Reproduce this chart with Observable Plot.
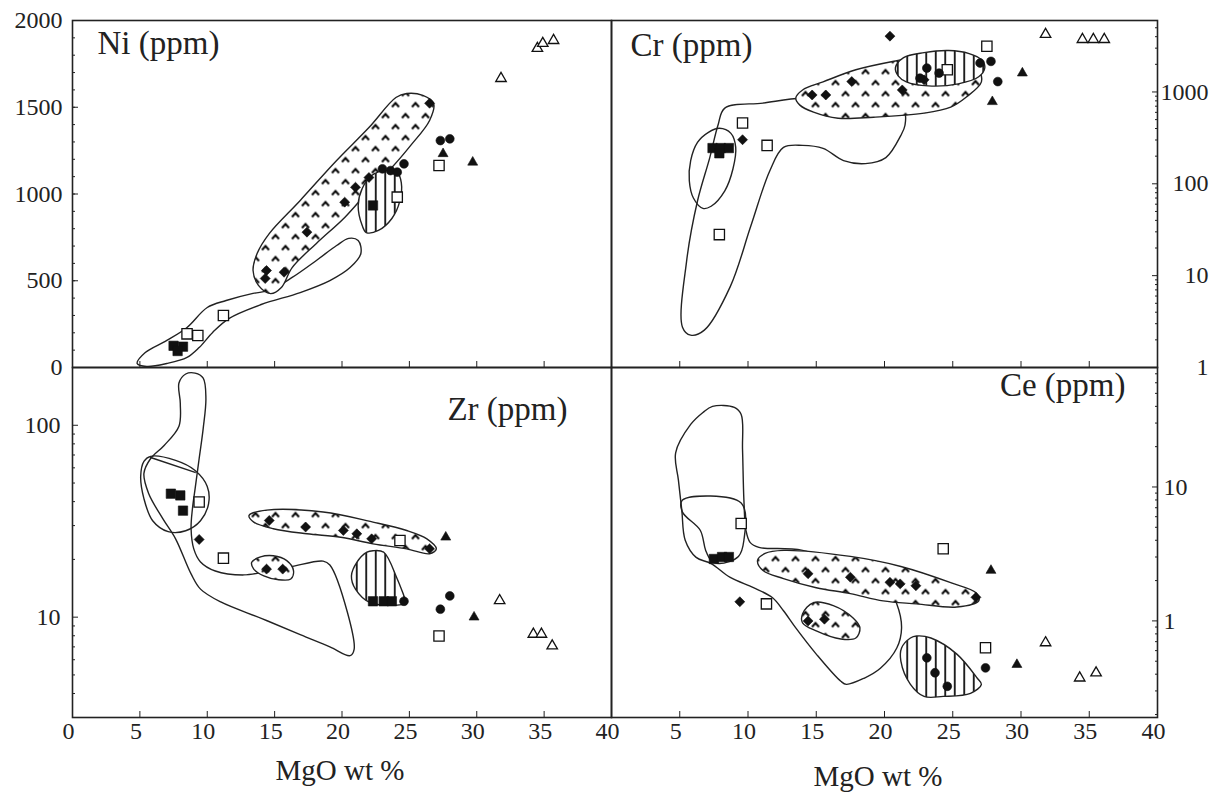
<!DOCTYPE html>
<html><head><meta charset="utf-8">
<script src="https://cdn.jsdelivr.net/npm/d3@7"></script>
<script src="https://cdn.jsdelivr.net/npm/@observablehq/plot@0.6"></script>
<style>
body{margin:0;background:#fff;width:1222px;height:794px;position:relative;overflow:hidden;font-family:"Liberation Serif","Times New Roman",serif;color:#222;}
.xlabel{position:absolute;font-family:"Liberation Serif","Times New Roman",serif;font-size:29px;white-space:nowrap;transform:translateX(-50%);}
</style></head><body>
<svg width="0" height="0" style="position:absolute">
<defs>
<pattern id="stip" patternUnits="userSpaceOnUse" width="20" height="22">
 <rect width="20" height="22" fill="#fff"/>
 <path d="M1.5,7.5 L5,3.5 L8.5,7.5 M11.5,18.5 L15,14.5 L18.5,18.5" fill="none" stroke="#000" stroke-width="1.9"/>
</pattern>
<pattern id="hatch" patternUnits="userSpaceOnUse" width="9.5" height="10">
 <rect width="9.5" height="10" fill="#fff"/>
 <line x1="4.75" y1="0" x2="4.75" y2="10" stroke="#111" stroke-width="1.8"/>
</pattern>
</defs></svg>
<div class="xlabel" style="left:340px;top:754px">MgO wt %</div>
<div class="xlabel" style="left:878px;top:760px">MgO wt %</div>
<script>
// ---- axis ticks ----
const mgoTicks = [0,5,10,15,20,25,30,35,40];
const mgoLabelsLeft = [0,5,10,15,20,25,30,35,40];
const mgoLabelsRight = [5,10,15,20,25,30,35,40];
const niTicks = [0,500,1000,1500,2000];
const crTicks = [1,10,100,1000];
const zrTicks = [10,100];
const ceTicks = [1,10];

// ---- Ni (ppm) ----
const niDiamond = [[26.5,1523],[22.0,1095],[21.0,1039],[20.2,953],[17.4,780],[14.4,559],[14.3,513],[15.7,549]];
const niCircle = [[27.3,1308],[28.0,1318],[24.6,1174],[23.0,1145],[23.6,1135],[24.1,1126]];
const niTriFilled = [[27.5,1232],[29.7,1183]];
const niTriOpen = [[31.8,1666],[34.5,1839],[34.9,1868],[35.7,1885]];
const niSqOpen = [[27.2,1164],[24.1,982],[8.5,194],[9.3,184],[11.2,300]];
const niSqFilled = [[22.3,934],[7.5,125],[8.2,120],[7.8,95]];
const niStipple = [[13.4,559],[13.7,657],[14.6,772],[16.9,963],[19.6,1193],[22.0,1383],[24.0,1556],[24.8,1579],[26.0,1568],[26.8,1522],[26.5,1424],[25.1,1280],[23.7,1153],[22.2,1038],[20.2,865],[18.1,715],[16.3,576],[15.5,461],[14.7,426],[13.8,473]];
const niHatch = [[21.5,818],[21.2,934],[21.5,1032],[22.2,1107],[23.2,1135],[24.1,1124],[24.4,1066],[24.3,962],[23.7,859],[22.7,790],[21.8,778]];
const niOpen = [[4.8,23],[5.4,86],[7.0,156],[8.5,231],[10.0,346],[11.4,386],[13.4,427],[14.6,444],[16.3,519],[18.1,617],[19.6,703],[20.5,744],[21.2,732],[21.4,657],[20.6,576],[19.1,501],[16.9,432],[14.0,363],[11.6,282],[10.4,202],[9.4,115],[8.5,58],[7.0,23],[5.5,6]];

// ---- Cr (ppm) ----
const crDiamond = [[20.4,4052],[14.7,927],[15.7,927],[17.6,1298],[21.3,1052],[22.9,1355],[9.6,302]];
const crCircle = [[23.1,1821],[24.0,1604],[22.6,1413],[27.0,2067],[27.8,2153],[28.3,1298]];
const crTriFilled = [[30.1,1604],[27.9,783]];
const crTriOpen = [[31.8,4230],[34.5,3730],[35.3,3730],[36.1,3730]];
const crSqOpen = [[27.5,3147],[24.6,1745],[9.6,460],[11.4,262],[7.9,28]];
const crSqFilled = [[7.4,245],[8.0,245],[8.6,245],[7.9,215]];
const crOpen = [[8.3,667],[11.1,757],[14.0,859],[18.5,817],[21.4,634],[21.5,434],[21.2,337],[20.1,193],[18.6,166],[17.0,179],[15.5,243],[14.0,262],[12.6,249],[11.6,139],[10.2,34.5],[8.7,7.6],[6.8,2.55],[5.8,2.25],[5.2,2.75],[5.5,14.3],[6.3,65],[7.2,193],[7.8,434]];
const crEllipse = [[7.9,402],[8.75,354],[9.1,249],[8.9,146],[8.3,84],[7.3,57],[6.7,54],[6.0,70],[5.7,108],[5.8,179],[6.3,282],[7.1,363]];
const crStipple = [[13.5,859],[14.0,1052],[15.5,1288],[17.9,1745],[20.9,2192],[23.6,2552],[25.8,2366],[26.9,1745],[27.1,1288],[26.0,881],[24.85,684],[22.9,588],[19.2,531],[16.6,518],[14.8,603],[13.8,719]];
const crHatch = [[20.8,1836],[21.4,2366],[22.9,2683],[24.7,2825],[26.2,2618],[27.1,2249],[27.35,1836],[26.9,1462],[25.4,1224],[23.2,1164],[21.6,1288],[21.0,1500]];

// ---- Zr (ppm) ----
const zrDiamond = [[9.4,25.4],[14.4,17.8],[15.6,17.8],[14.6,31.9],[17.3,29.5],[20.1,28.3],[21.1,27.2],[22.2,25.6],[26.5,22.7]];
const zrCircle = [[24.6,12.1],[28.0,12.9],[27.3,11.0]];
const zrTriFilled = [[27.7,26.1],[29.8,10.0]];
const zrTriOpen = [[31.7,12.2],[34.2,8.15],[34.8,8.15],[35.6,7.08]];
const zrSqOpen = [[9.4,39.8],[11.2,20.3],[24.3,25.1],[27.2,7.98]];
const zrSqFilled = [[7.3,44.0],[8.0,43.1],[8.2,35.9],[22.3,12.1],[23.1,12.1],[23.7,12.1]];
const zrOpen = [[5.8,67.1],[6.8,78.5],[7.9,98.9],[8.0,130],[7.9,166],[8.4,185],[9.1,187],[9.7,176],[9.9,138],[9.7,96.4],[9.4,67.1],[9.1,46.8],[8.9,36.7],[8.8,28.9],[9.0,22.7],[9.5,19.4],[10.6,17.4],[12.7,16.6],[14.2,17.2],[16.2,18.3],[18.6,19.6],[19.1,18.7],[20.4,10.6],[20.9,6.8],[20.6,6.3],[19.1,7.0],[16.9,8.1],[14.1,9.8],[11.0,12.0],[9.5,14.0],[8.8,16.8],[7.65,25.6],[6.7,32.6],[5.65,44.1],[5.3,56.1]];
const zrDivider = [[5.8,67.9],[9.1,56.8]];
const zrEllipse = [[5.8,68.9],[7.65,65.6],[9.1,58.1],[10.0,48.0],[10.1,39.1],[9.5,31.8],[8.4,28.2],[7.1,27.9],[5.95,31.8],[5.3,41.5],[5.06,54.1],[5.3,64.9]];
const zrStipple = [[13.1,33.9],[14.4,36.1],[18.6,35.3],[22.3,31.3],[24.8,28.3],[26.3,25.6],[27.0,22.7],[26.5,21.4],[24.8,22.7],[22.3,24.1],[19.9,26.1],[17.4,27.2],[14.9,28.9],[13.45,31.3]];
const zrStippleSmall = [[13.3,19.3],[13.95,20.6],[14.9,20.9],[15.9,19.7],[16.4,17.5],[16.2,15.8],[15.2,15.7],[14.2,16.4],[13.45,17.8]];
const zrHatch = [[22.3,22.2],[23.1,21.8],[24.1,15.8],[24.6,12.9],[24.8,11.9],[22.1,11.9],[21.0,14.0],[20.7,16.4],[21.1,19.3],[21.85,21.8]];

// ---- Ce (ppm) ----
const ceDiamond = [[14.4,2.25],[17.5,2.12],[20.4,1.94],[21.15,1.89],[22.3,1.83],[26.7,1.50],[14.4,1.0],[15.6,1.03],[9.4,1.39]];
const ceCircle = [[23.1,0.53],[23.7,0.41],[24.6,0.325],[27.4,0.446]];
const ceTriFilled = [[29.7,0.472],[27.8,2.38]];
const ceTriOpen = [[31.8,0.687],[34.3,0.375],[35.5,0.409]];
const ceSqOpen = [[27.4,0.63],[24.3,3.46],[11.35,1.34],[9.5,5.33]];
const ceSqFilled = [[7.5,2.9],[8.1,3.0],[8.6,3.0]];
const ceOpen = [[4.7,18.0],[5.8,29.3],[6.7,36.0],[7.4,40.0],[9.0,39.3],[9.5,34.8],[9.6,19.0],[9.7,7.98],[9.85,4.75],[10.15,3.86],[10.8,3.54],[14.0,3.36],[19.9,2.0],[20.9,1.34],[21.25,0.886],[20.9,0.627],[19.7,0.443],[18.5,0.373],[17.2,0.336],[16.8,0.354],[15.0,0.565],[13.5,0.886],[12.6,1.19],[11.8,1.49],[10.4,1.77],[8.7,2.11],[7.3,2.68],[6.2,2.98],[5.4,4.0],[5.15,6.71],[4.9,11.3]];
const ceInner = [[5.2,7.98],[9.5,7.59],[9.7,4.0],[9.3,3.03],[7.9,2.68],[7.3,2.83],[6.9,3.36],[6.5,4.75],[5.2,6.49]];
const ceStipple = [[10.7,2.83],[11.25,3.19],[12.6,3.36],[17.5,3.03],[21.2,2.55],[24.85,1.93],[26.7,1.62],[26.9,1.41],[25.3,1.27],[22.35,1.34],[19.9,1.41],[17.5,1.60],[15.0,1.77],[12.6,2.07],[11.1,2.38]];
const ceStippleSmall = [[14.0,1.13],[14.8,1.37],[16.25,1.30],[17.7,1.05],[18.2,0.886],[17.9,0.745],[16.8,0.732],[15.0,0.841],[14.0,0.966]];
const ceHatch = [[22.35,0.771],[23.4,0.745],[25.3,0.565],[26.8,0.373],[27.1,0.336],[26.3,0.288],[24.3,0.273],[22.9,0.273],[21.9,0.336],[21.2,0.5],[21.25,0.627],[21.9,0.745]];

// ---- helpers ----
const INK = "#222";
const FONT = "Liberation Serif, Times New Roman, serif";
const X = d => d[0], Y = d => d[1];
function field(data, fill = "none", curve = "catmull-rom-closed") {
  return Plot.line(data, {x: X, y: Y, curve, stroke: INK, strokeWidth: 1.4, fill});
}
function dots(data, symbol, filled, r) {
  return Plot.dot(data, {x: X, y: Y, symbol, r, fill: filled ? "#111" : "#fff", stroke: "#111", strokeWidth: filled ? 0.6 : 1.3});
}
function allDots(set) {
  return [
    dots(set.sqOpen, "square", false, 5.8),
    dots(set.sqFilled, "square", true, 5.3),
    dots(set.triOpen, "triangle", false, 3.9),
    dots(set.triFilled, "triangle", true, 3.7),
    dots(set.circle, "circle", true, 4.4),
    dots(set.diamond, "diamond2", true, 4.5)
  ];
}
function logMinor(lo, hi) {
  const out = [];
  for (let e = Math.floor(Math.log10(lo)); e <= Math.ceil(Math.log10(hi)); e++)
    for (let k = 2; k <= 9; k++) { const v = k * Math.pow(10, e); if (v > lo && v < hi) out.push(v); }
  return out;
}
const blank = () => "";
const plain = d => String(d);
function xAxes(labels) {
  const m = [Plot.axisX(mgoTicks, {anchor: "bottom", tickSize: -6, tickFormat: blank, label: null, stroke: INK})];
  if (labels) m.push(Plot.axisX(labels, {anchor: "bottom", tickSize: 0, tickPadding: 4, dx: -4, fontSize: 24, fontFamily: FONT, tickFormat: plain, label: null, fill: INK}));
  return m;
}
function yAxes(anchor, major, minor, textOpts) {
  return [
    Plot.axisY(minor, {anchor, tickSize: -3, tickFormat: blank, label: null, stroke: INK}),
    Plot.axisY(major, {anchor, tickSize: -6, tickFormat: blank, label: null, stroke: INK}),
    Plot.axisY(major, {anchor, tickSize: 0, label: null, fontSize: 24, fontFamily: FONT, tickFormat: plain, fill: INK, ...textOpts})
  ];
}
function title(text, frameAnchor, dx, dy, textAnchor) {
  return Plot.text([text], {text: d => d, frameAnchor, dx, dy, textAnchor, lineAnchor: "middle", fontSize: 33, fontFamily: FONT, fill: INK});
}
function place(svg, left, top) {
  svg.style.position = "absolute";
  svg.style.left = left + "px";
  svg.style.top = top + "px";
  svg.style.overflow = "visible";
  svg.style.background = "transparent";
  document.body.appendChild(svg);
}
const style = {fontFamily: FONT, color: INK, background: "transparent"};

// Top-left: Ni
place(Plot.plot({
  width: 612, height: 368, marginLeft: 72, marginRight: 1, marginTop: 20, marginBottom: 1, style,
  x: {domain: [0, 40]}, y: {domain: [0, 2000]},
  marks: [
    field(niOpen),
    field(niStipple, "url(#stip)"),
    field(niHatch, "url(#hatch)"),
    ...allDots({sqOpen: niSqOpen, sqFilled: niSqFilled, triOpen: niTriOpen, triFilled: niTriFilled, circle: niCircle, diamond: niDiamond}),
    ...xAxes(null),
    ...yAxes("left", niTicks, d3.range(100, 2000, 100), {tickPadding: 10}),
    title("Ni (ppm)", "top-left", 25, 23, "start"),
    Plot.frame({stroke: INK, strokeWidth: 1.6})
  ]
}), 0, 0);

// Top-right: Cr
place(Plot.plot({
  width: 662, height: 368, marginLeft: 51, marginRight: 65, marginTop: 20, marginBottom: 1, style,
  x: {domain: [0, 40]}, y: {type: "log", domain: [1, 6000]},
  marks: [
    field(crOpen),
    field(crEllipse),
    field(crStipple, "url(#stip)"),
    field(crHatch, "url(#hatch)"),
    ...allDots({sqOpen: crSqOpen, sqFilled: crSqFilled, triOpen: crTriOpen, triFilled: crTriFilled, circle: crCircle, diamond: crDiamond}),
    ...xAxes(null),
    ...yAxes("right", crTicks, logMinor(1, 6000), {tickPadding: 51, textAnchor: "end"}),
    title("Cr (ppm)", "top-left", 19, 25, "start"),
    Plot.frame({stroke: INK, strokeWidth: 1.6})
  ]
}), 560, 0);

// Bottom-left: Zr
place(Plot.plot({
  width: 612, height: 428, marginLeft: 72, marginRight: 1, marginTop: 1, marginBottom: 77, style,
  x: {domain: [0, 40]}, y: {type: "log", domain: [3, 200]},
  marks: [
    field(zrOpen),
    field(zrDivider, "none", "linear"),
    field(zrEllipse),
    field(zrStipple, "url(#stip)"),
    field(zrStippleSmall, "url(#stip)"),
    field(zrHatch, "url(#hatch)"),
    ...allDots({sqOpen: zrSqOpen, sqFilled: zrSqFilled, triOpen: zrTriOpen, triFilled: zrTriFilled, circle: zrCircle, diamond: zrDiamond}),
    ...xAxes(mgoLabelsLeft),
    ...yAxes("left", zrTicks, logMinor(3, 200), {tickPadding: 12}),
    title("Zr (ppm)", "top-right", -44, 42, "end"),
    Plot.frame({stroke: INK, strokeWidth: 1.6})
  ]
}), 0, 366);

// Bottom-right: Ce
place(Plot.plot({
  width: 662, height: 428, marginLeft: 51, marginRight: 65, marginTop: 1, marginBottom: 77, style,
  x: {domain: [0, 40]}, y: {type: "log", domain: [0.19, 78]},
  marks: [
    field(ceOpen),
    field(ceInner),
    field(ceStipple, "url(#stip)"),
    field(ceStippleSmall, "url(#stip)"),
    field(ceHatch, "url(#hatch)"),
    ...allDots({sqOpen: ceSqOpen, sqFilled: ceSqFilled, triOpen: ceTriOpen, triFilled: ceTriFilled, circle: ceCircle, diamond: ceDiamond}),
    ...xAxes(mgoLabelsRight),
    ...yAxes("right", ceTicks, logMinor(0.19, 78), {tickPadding: 6}),
    title("Ce (ppm)", "top-right", -32, 18, "end"),
    Plot.frame({stroke: INK, strokeWidth: 1.6})
  ]
}), 560, 366);
</script>
</body></html>
